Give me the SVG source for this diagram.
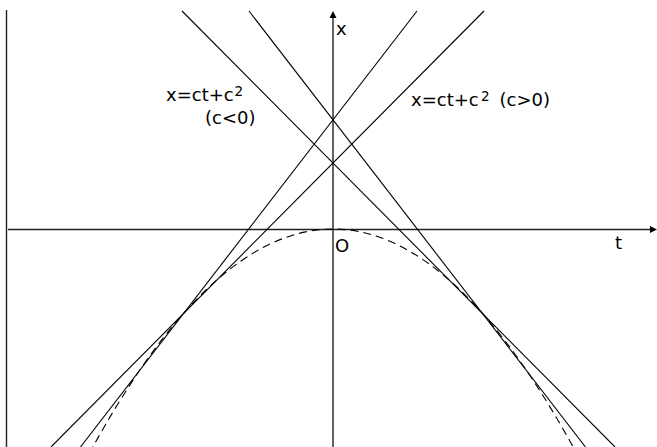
<svg xmlns="http://www.w3.org/2000/svg" width="657" height="447" viewBox="0 0 657 447">
<style>
.ln{stroke:#000;stroke-width:1.1;fill:none}
.ax{stroke:#222;stroke-width:1.4;fill:none}
.dash{stroke:#000;stroke-width:1.1;fill:none;stroke-dasharray:8 5}
.lbl{font-family:"DejaVu Sans","Liberation Sans",sans-serif;font-size:18px;fill:#000}
.sup{font-family:"DejaVu Sans","Liberation Sans",sans-serif;font-size:13.5px;fill:#000}
</style>
<rect width="657" height="447" fill="#fff"/>
<g id="frame">
<line class="ax" x1="6.5" y1="10" x2="6.5" y2="447"/>
</g>
<g id="axes">
<line class="ax" x1="8" y1="229.5" x2="651" y2="229.5"/>
<polygon points="657,229.5 650,226 650,233" fill="#000"/>
<line class="ax" x1="333" y1="447" x2="333" y2="17"/>
<polygon points="333,11 329.5,18 336.5,18" fill="#000"/>
</g>
<g id="curve">
<path class="dash" d="M83,465.25 Q333,-7.25 583,465.25"/>
</g>
<g id="lines">
<line class="ln" x1="51" y1="447" x2="484" y2="11"/>
<line class="ln" x1="80.5" y1="447" x2="417" y2="11"/>
<line class="ln" x1="182" y1="11" x2="615" y2="447"/>
<line class="ln" x1="249" y1="11" x2="585.5" y2="447"/>
</g>
<g id="labels">
<text class="lbl" x="336" y="35">x</text>
<text class="lbl" x="615" y="249">t</text>
<text class="lbl" x="335" y="252">O</text>
<text class="lbl" x="166" y="101">x=ct+c</text>
<text class="sup" x="234.5" y="96">2</text>
<text class="lbl" x="205" y="124">(c&lt;0)</text>
<text class="lbl" x="411" y="106">x=ct+c</text>
<text class="sup" x="481" y="100.5">2</text>
<text class="lbl" x="499.5" y="106">(c&gt;0)</text>
</g>
</svg>
